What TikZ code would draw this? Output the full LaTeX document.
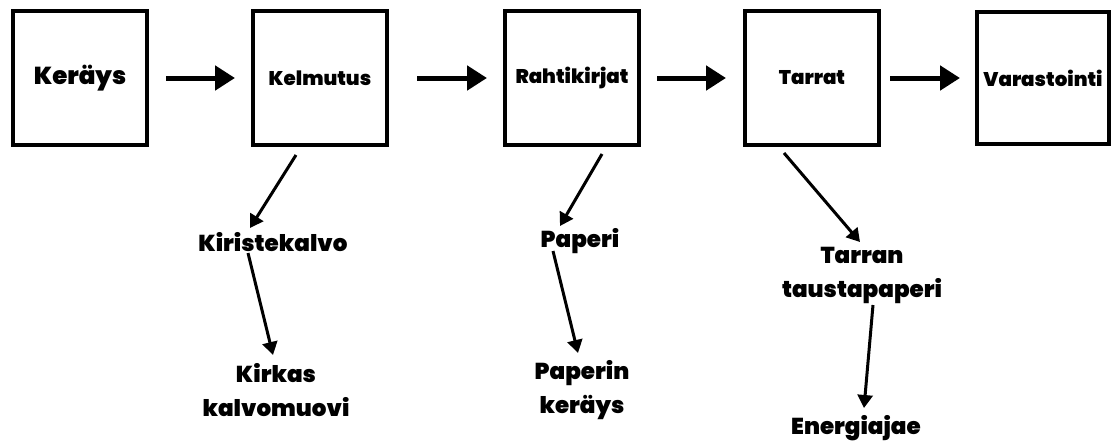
\documentclass[tikz,border=0pt]{standalone}
\usepackage{fontspec}
\setmainfont{Poppins}[BoldFont={Poppins Black}]
\usetikzlibrary{calc, positioning, arrows.meta}
\tikzset{
    stage/.style={rectangle, draw=black, line width=4pt, fill=white, minimum width=134pt, minimum height=134pt, inner sep=0pt, align=center, font=\fontsize{19.8}{24}\selectfont\bfseries},
    waste/.style={align=center, inner sep=0pt, font=\fontsize{23}{34}\selectfont\bfseries},
    flow/.style={-{Triangle[length=20pt, width=24pt]}, line width=5pt},
    down/.style={-{Triangle[length=13pt, width=15pt]}, line width=3pt}
}
\begin{document}
\begin{tikzpicture}[x=1pt, y=-1pt]
    \useasboundingbox (0,0) rectangle (1112,442);

    % Process chain
    \node[stage, font=\fontsize{24.5}{28}\selectfont\bfseries] (Kerays) at (80,78) {Keräys};
    \node[stage, right=102pt of Kerays] (Kelmutus) {Kelmutus};
    \node[stage, right=114pt of Kelmutus] (Rahtikirjat) {Rahtikirjat};
    \node[stage, right=102pt of Rahtikirjat] (Tarrat) {Tarrat};
    \node[stage, minimum width=132pt, minimum height=132pt, right=94pt of Tarrat] (Varastointi) {Varastointi};

    \draw[flow, shorten <=17pt, shorten >=16pt] (Kerays.east) -- (Kelmutus.west);
    \draw[flow, shorten <=28pt, shorten >=16pt] (Kelmutus.east) -- (Rahtikirjat.west);
    \draw[flow, shorten <=16pt, shorten >=17pt] (Rahtikirjat.east) -- (Tarrat.west);
    \draw[flow, shorten <=9pt, shorten >=15pt] (Tarrat.east) -- (Varastointi.west);

    % Waste streams
    \node[waste] (Kiristekalvo) at (273,242) {Kiristekalvo};
    \node[waste] (Kirkas) at (276,390) {Kirkas\\kalvomuovi};
    \node[waste] (Paperi) at (580,241) {Paperi};
    \node[waste] (PaperinKerays) at (582,390) {Paperin\\keräys};
    \node[waste] (Tarran) at (862,275) {Tarran\\taustapaperi};
    \node[waste] (Energiajae) at (856,428) {Energiajae};

    \draw[down] ($(Kelmutus.south)+(-24,8)$) -- ($(Kiristekalvo)+(-23,-14)$);
    \draw[down] ($(Kiristekalvo)+(-25,11)$) -- ($(Kirkas)+(-3,-35)$);
    \draw[down] ($(Rahtikirjat.south)+(30,7)$) -- ($(Paperi)+(-20,-15)$);
    \draw[down] ($(Paperi)+(-27,10)$) -- ($(PaperinKerays)+(-4,-37)$);
    \draw[down] ($(Tarrat.south)+(-28,6)$) -- ($(Tarran)+(-2,-33)$);
    \draw[down] ($(Tarran)+(11,30)$) -- ($(Energiajae)+(8,-20)$);
\end{tikzpicture}
\end{document}
